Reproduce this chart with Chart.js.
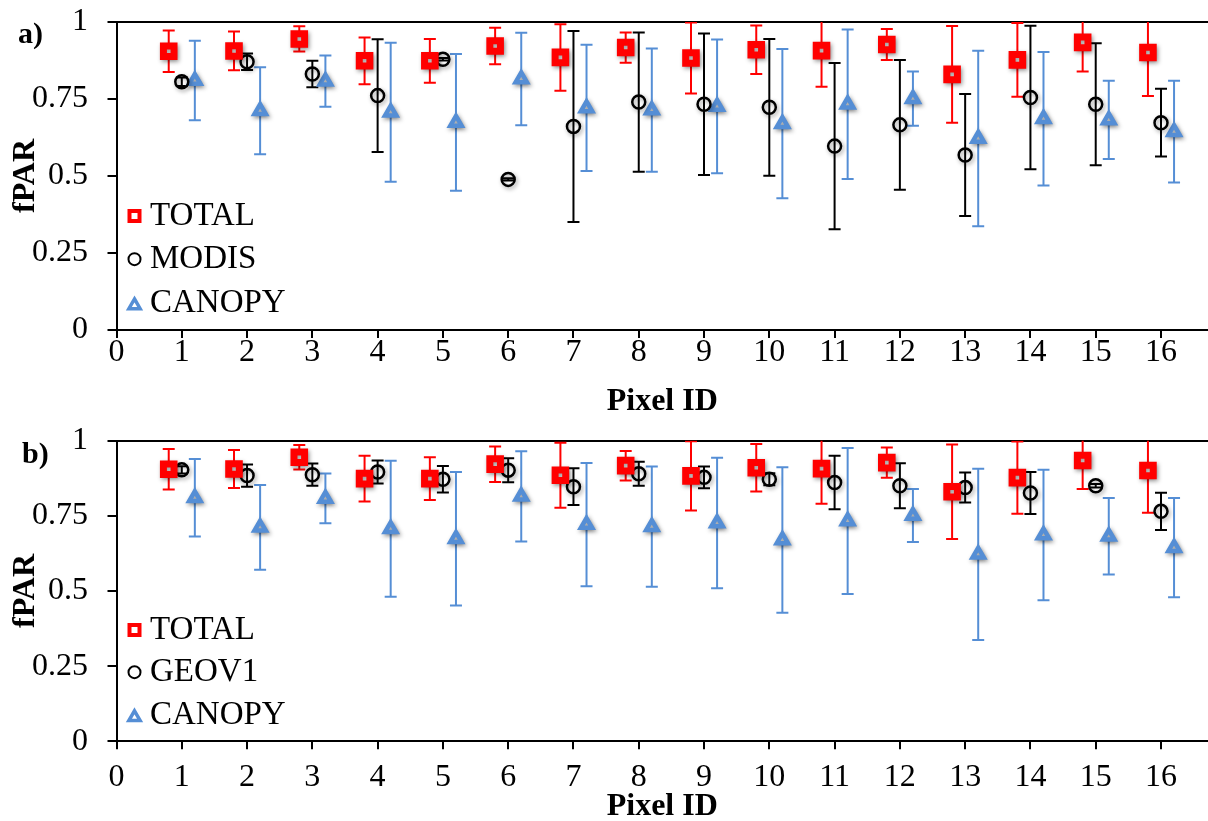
<!DOCTYPE html>
<html>
<head>
<meta charset="utf-8">
<script src="https://cdn.jsdelivr.net/npm/chart.js"></script>
<style>
html,body{margin:0;padding:0;background:#ffffff;}
#wrap{position:relative;width:1208px;height:821px;overflow:hidden;background:#ffffff;}
#ca{position:absolute;left:0;top:0;}
#cb{position:absolute;left:0;top:410px;}
</style>
</head>
<body>
<div id="wrap">
<canvas id="ca" width="1208" height="410"></canvas>
<canvas id="cb" width="1208" height="411"></canvas>
</div>
<script>
// ---------------- DATA ----------------
const pixelIds = [1, 2, 3, 4, 5, 6, 7, 8, 9, 10, 11, 12, 13, 14, 15, 16];
const xTicks = [0, 1, 2, 3, 4, 5, 6, 7, 8, 9, 10, 11, 12, 13, 14, 15, 16];
const yTicks = [0, 0.25, 0.5, 0.75, 1];

const totalVals = [0.905, 0.906, 0.945, 0.874, 0.874, 0.922, 0.885, 0.917, 0.883, 0.910, 0.907, 0.927, 0.830, 0.877, 0.934, 0.901];
const totalErr  = [0.067, 0.063, 0.041, 0.076, 0.071, 0.059, 0.108, 0.049, 0.115, 0.079, 0.117, 0.050, 0.157, 0.120, 0.095, 0.141];

const modisVals = [0.806, 0.871, 0.831, 0.761, 0.879, 0.489, 0.661, 0.740, 0.733, 0.723, 0.597, 0.666, 0.568, 0.755, 0.733, 0.673];
const modisErr  = [0.014, 0.027, 0.043, 0.183, 0.004, 0.004, 0.310, 0.226, 0.230, 0.222, 0.270, 0.211, 0.198, 0.233, 0.198, 0.110];

const geovVals  = [0.903, 0.884, 0.887, 0.896, 0.872, 0.902, 0.847, 0.890, 0.878, 0.872, 0.861, 0.850, 0.844, 0.826, 0.850, 0.765];
const geovErr   = [0.012, 0.037, 0.037, 0.038, 0.044, 0.040, 0.061, 0.040, 0.036, 0.020, 0.089, 0.075, 0.050, 0.070, 0.006, 0.062];

const canopyVals = [0.810, 0.712, 0.808, 0.707, 0.674, 0.815, 0.721, 0.714, 0.726, 0.670, 0.733, 0.751, 0.622, 0.686, 0.682, 0.644];
const canopyErr  = [0.129, 0.141, 0.083, 0.226, 0.222, 0.150, 0.205, 0.200, 0.217, 0.242, 0.243, 0.088, 0.285, 0.217, 0.127, 0.165];

// ---------------- STYLE ----------------
const FONT = "'Liberation Serif', 'Times New Roman', serif";
const RED = '#FF0000';
const BLACK = '#000000';
const BLUE = '#558ED5';

// error bar plugin (uses the chart's scales)
const errorBarPlugin = {
  id: 'errorBars',
  beforeDatasetsDraw(chart) {
    const ctx = chart.ctx;
    const area = chart.chartArea;
    const xs = chart.scales.x, ys = chart.scales.y;
    ctx.save();
    ctx.beginPath();
    ctx.rect(area.left, area.top, area.right - area.left, area.bottom - area.top);
    ctx.clip();
    chart.data.datasets.forEach(ds => {
      if (!ds.errorBars) return;
      ctx.strokeStyle = ds.pointBorderColor;
      ctx.lineWidth = 2;
      ds.data.forEach((pt, i) => {
        const e = ds.errorBars[i];
        const px = xs.getPixelForValue(pt.x);
        const yt = ys.getPixelForValue(pt.y + e);
        const yb = ys.getPixelForValue(pt.y - e);
        const cw = 6;
        ctx.beginPath();
        ctx.moveTo(px, yt); ctx.lineTo(px, yb);
        ctx.moveTo(px - cw, yt); ctx.lineTo(px + cw, yt);
        ctx.moveTo(px - cw, yb); ctx.lineTo(px + cw, yb);
        ctx.stroke();
      });
    });
    ctx.restore();
  }
};

// soft drop shadow for markers
const shadowPlugin = {
  id: 'markerShadow',
  beforeDatasetDraw(chart) {
    const ctx = chart.ctx;
    ctx.save();
    ctx.shadowColor = 'rgba(0,0,0,0.38)';
    ctx.shadowBlur = 4;
    ctx.shadowOffsetX = 1.5;
    ctx.shadowOffsetY = 2;
  },
  afterDatasetDraw(chart) {
    chart.ctx.restore();
  }
};

function legendMarker(ctx, style, x, y, color, fill) {
  ctx.save();
  ctx.strokeStyle = color;
  ctx.fillStyle = fill;
  ctx.beginPath();
  if (style === 'rect') {
    ctx.lineWidth = 4;
    const s = 5;
    ctx.rect(x - s, y - s, 2 * s, 2 * s);
  } else if (style === 'circle') {
    ctx.lineWidth = 2;
    ctx.arc(x, y, 6, 0, Math.PI * 2);
  } else if (style === 'triangle') {
    ctx.lineWidth = 3.5;
    const r = 6.5;
    const cy = y + 0.25 * r;
    ctx.moveTo(x, cy - r);
    ctx.lineTo(x + 0.866 * r, cy + 0.5 * r);
    ctx.lineTo(x - 0.866 * r, cy + 0.5 * r);
    ctx.closePath();
  }
  ctx.fill();
  ctx.stroke();
  ctx.restore();
}

// in-plot legend (bottom left of the plot area)
const insideLegendPlugin = {
  id: 'insideLegend',
  afterDatasetsDraw(chart) {
    const ctx = chart.ctx;
    const area = chart.chartArea;
    const ys = chart.scales.y;
    const rows = [0.37, 0.23, 0.085];
    chart.data.datasets.forEach((ds, i) => {
      const y = ys.getPixelForValue(rows[i]);
      legendMarker(ctx, ds.pointStyle, area.left + 18, y, ds.pointBorderColor, '#ffffff');
      ctx.save();
      ctx.fillStyle = '#000000';
      ctx.font = "33px " + FONT;
      ctx.textAlign = 'left';
      ctx.textBaseline = 'middle';
      ctx.fillText(ds.label, area.left + 33.5, y);
      ctx.restore();
    });
  }
};

const panelLabelPlugin = {
  id: 'panelLabel',
  afterDraw(chart, args, opts) {
    const ctx = chart.ctx;
    ctx.save();
    ctx.fillStyle = '#000000';
    ctx.font = "bold 30px " + FONT;
    ctx.textAlign = 'left';
    ctx.textBaseline = 'alphabetic';
    ctx.fillText(opts.text, opts.x, opts.y);
    ctx.restore();
  }
};

function series(label, ids, vals, errs, offset, style, color, radius, bw, fill) {
  return {
    label: label,
    data: ids.map((p, i) => ({ x: p + offset, y: vals[i] })),
    errorBars: errs,
    showLine: false,
    pointStyle: style,
    pointRadius: radius,
    pointHoverRadius: radius,
    pointBorderWidth: bw,
    pointBackgroundColor: fill,
    pointBorderColor: color,
    borderColor: color,
    backgroundColor: fill
  };
}

function makePanel(id, g) {
  const datasets = [
    series('TOTAL', pixelIds, totalVals, totalErr, -0.2, 'rect', RED, 7.5, 7, '#ffffff'),
    series(g.midLabel, pixelIds, g.midVals, g.midErr, 0, 'circle', BLACK, 6.5, 2.5, 'rgba(255,255,255,0)'),
    series('CANOPY', pixelIds, canopyVals, canopyErr, 0.2, 'triangle', BLUE, 6.5, 4.5, '#ffffff')
  ];
  return new Chart(document.getElementById(id), {
    type: 'scatter',
    data: { datasets: datasets },
    plugins: [errorBarPlugin, shadowPlugin, insideLegendPlugin, panelLabelPlugin],
    options: {
      responsive: false,
      animation: false,
      events: [],
      devicePixelRatio: 1,
      layout: { autoPadding: false, padding: { top: g.padTop, left: 0, right: 0, bottom: 0 } },
      plugins: {
        legend: { display: false },
        tooltip: { enabled: false },
        panelLabel: { text: g.panel, x: g.panelX, y: g.panelY }
      },
      scales: {
        x: {
          type: 'linear', position: 'bottom', min: 0, max: 16.72,
          afterBuildTicks: s => { s.ticks = xTicks.map(v => ({ value: v })); },
          ticks: {
            autoSkip: false, maxRotation: 0, minRotation: 0, color: '#000000',
            padding: g.xTickPad,
            font: { family: FONT, size: 32, lineHeight: 1 },
            callback: v => String(v)
          },
          grid: { drawOnChartArea: false, drawTicks: true, tickLength: 8, color: '#000000', lineWidth: 2 },
          border: { display: true, color: '#000000', width: 2 },
          title: {
            display: true, text: 'Pixel ID', color: '#000000',
            font: { family: FONT, size: 32, weight: 'bold', lineHeight: 1 },
            padding: { top: 0, bottom: g.xTitlePad }
          },
          afterFit: s => { s.height = g.xAxisH; s.paddingLeft = 0; s.paddingRight = 0; }
        },
        xTop: {
          type: 'linear', axis: 'x', position: 'top', min: 0, max: 16.72,
          ticks: { display: false },
          grid: { drawOnChartArea: false, drawTicks: false },
          border: { display: true, color: '#000000', width: 2 },
          afterFit: s => { s.height = 0; s.paddingLeft = 0; s.paddingRight = 0; }
        },
        y: {
          type: 'linear', position: 'left', min: 0, max: 1,
          afterBuildTicks: s => { s.ticks = yTicks.map(v => ({ value: v })); },
          ticks: {
            color: '#000000', padding: 19.5,
            font: { family: FONT, size: 32, lineHeight: 1 },
            callback: v => String(v)
          },
          grid: { drawOnChartArea: false, drawTicks: true, tickLength: 9, color: '#000000', lineWidth: 2 },
          border: { display: true, color: '#000000', width: 2 },
          title: {
            display: true, text: 'fPAR', color: '#000000',
            font: { family: FONT, size: 32, weight: 'bold', lineHeight: 1 },
            padding: { top: 10, bottom: 0 }
          },
          afterFit: s => { s.width = 116.5; s.paddingTop = 0; s.paddingBottom = 0; }
        }
      }
    }
  });
}

makePanel('ca', {
  panel: 'a)', panelX: 18, panelY: 43,
  midLabel: 'MODIS', midVals: modisVals, midErr: modisErr,
  padTop: 22, xAxisH: 80, xTickPad: -1, xTitlePad: -8
});
makePanel('cb', {
  panel: 'b)', panelX: 22, panelY: 53,
  midLabel: 'GEOV1', midVals: geovVals, midErr: geovErr,
  padTop: 30.7, xAxisH: 79.7, xTickPad: 12.7, xTitlePad: -2
});
</script>
</body>
</html>
